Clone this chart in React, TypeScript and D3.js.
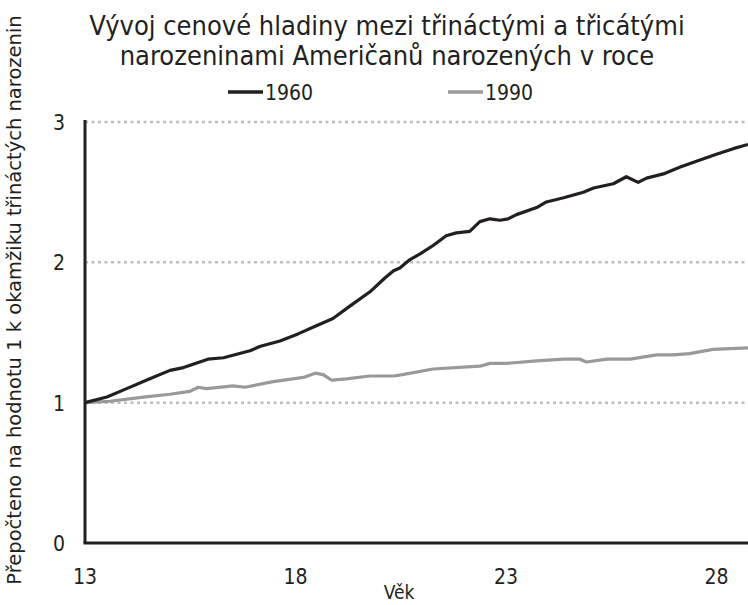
import React from "react"
import * as d3 from "d3"

const ages1960 = [13, 13.52, 13.99, 14.54, 15.02, 15.34, 15.92, 16.29, 16.92, 17.15, 17.63, 18.06, 18.51, 18.89, 19.3, 19.77, 20.13, 20.33, 20.48, 20.72, 20.96, 21.27, 21.58, 21.82, 22.14, 22.38, 22.62, 22.86, 23.05, 23.25, 23.73, 23.96, 24.37, 24.84, 25.08, 25.55, 25.86, 26.14, 26.34, 26.74, 27.14, 27.61, 28.0, 28.4, 28.75]
const values1960 = [1.0, 1.04, 1.1, 1.17, 1.23, 1.25, 1.31, 1.32, 1.37, 1.4, 1.44, 1.49, 1.55, 1.6, 1.69, 1.79, 1.89, 1.94, 1.96, 2.02, 2.06, 2.12, 2.19, 2.21, 2.22, 2.29, 2.31, 2.3, 2.31, 2.34, 2.39, 2.43, 2.46, 2.5, 2.53, 2.56, 2.61, 2.57, 2.6, 2.63, 2.68, 2.73, 2.77, 2.81, 2.84]

const ages1990 = [13, 13.59, 14.39, 15.02, 15.49, 15.69, 15.89, 16.52, 16.8, 17.47, 18.19, 18.47, 18.66, 18.86, 19.21, 19.77, 20.33, 20.54, 21.27, 22.38, 22.62, 23.01, 23.81, 24.37, 24.76, 24.91, 25.4, 25.95, 26.58, 26.97, 27.36, 27.92, 28.75]
const values1990 = [1.0, 1.01, 1.04, 1.06, 1.08, 1.11, 1.1, 1.12, 1.11, 1.15, 1.18, 1.21, 1.2, 1.16, 1.17, 1.19, 1.19, 1.2, 1.24, 1.26, 1.28, 1.28, 1.3, 1.31, 1.31, 1.29, 1.31, 1.31, 1.34, 1.34, 1.35, 1.38, 1.39]

const yTicks = [0, 1, 2, 3]
const xTicks = [13, 18, 23, 28]
const seriesNames = ["1960", "1990"]
const seriesColors = ["#231f20", "#999999"]

const titleLines = [
  "Vývoj cenové hladiny mezi třináctými a třicátými",
  "narozeninami Američanů narozených v roce",
]

const narrow = "'DejaVu Sans Condensed', 'Liberation Sans Narrow', Roboto, sans-serif"
const wide = "'DejaVu Sans', Verdana, sans-serif"

export default function App() {
  const width = 748, height = 605
  const x = d3.scaleLinear().domain([13, 28.75]).range([85, 748])
  const y = d3.scaleLinear().domain([0, 3]).range([543, 122])

  const line = d3.line<[number, number]>()
    .x((d) => x(d[0]))
    .y((d) => y(d[1]))
    .curve(d3.curveLinear)

  const d1960 = ages1960.map((a, i) => [a, values1960[i]] as [number, number])
  const d1990 = ages1990.map((a, i) => [a, values1990[i]] as [number, number])

  return (
    <div style={{ position: "absolute", left: 0, top: 0 }}>
      <svg width={width} height={height} style={{ display: "block", background: "#fff" }}>
        {/* title */}
        {titleLines.map((t, i) => (
          <text key={t} x={387} y={35 + i * 30} textAnchor="middle" fontFamily={narrow} fontSize={27} fill="#231f20">{t}</text>
        ))}

        {/* legend */}
        {seriesNames.map((s, i) => (
          <g key={s} transform={`translate(${228 + i * 220}, 92)`}>
            <line x1={0} x2={35} y1={0} y2={0} stroke={seriesColors[i]} strokeWidth={3.5} />
            <text x={37} y={8} fontFamily={narrow} fontSize={21} fill="#231f20">{s}</text>
          </g>
        ))}

        {/* grid */}
        {yTicks.filter((t) => t > 0).map((t) => (
          <line key={t} x1={x(13)} x2={748} y1={y(t)} y2={y(t)} stroke="#bdbdbd" strokeWidth={2.5} strokeDasharray="3,3.5" />
        ))}

        {/* series */}
        <path d={line(d1990) ?? ""} fill="none" stroke={seriesColors[1]} strokeWidth={3.2} strokeLinejoin="round" />
        <path d={line(d1960) ?? ""} fill="none" stroke={seriesColors[0]} strokeWidth={3.2} strokeLinejoin="round" />

        {/* axes */}
        <line x1={x(13)} x2={x(13)} y1={y(3) - 2} y2={y(0)} stroke="#231f20" strokeWidth={3} />
        <line x1={x(13) - 1.5} x2={748} y1={y(0)} y2={y(0)} stroke="#231f20" strokeWidth={3} />

        {yTicks.map((t) => (
          <text key={t} x={59} y={y(t) + 8} textAnchor="middle" fontFamily={narrow} fontSize={21} fill="#231f20">{t}</text>
        ))}
        {xTicks.map((t) => (
          <text key={t} x={x(t)} y={584} textAnchor="middle" fontFamily={narrow} fontSize={21} fill="#231f20">{t}</text>
        ))}

        <text x={399} y={599} textAnchor="middle" fontFamily={narrow} fontSize={19} fill="#231f20">Věk</text>
        <text transform="translate(21, 300) rotate(-90)" textAnchor="middle" fontFamily={wide} fontSize={19.5} fill="#231f20">
          Přepočteno na hodnotu 1 k okamžiku třináctých narozenin
        </text>
      </svg>
    </div>
  )
}
